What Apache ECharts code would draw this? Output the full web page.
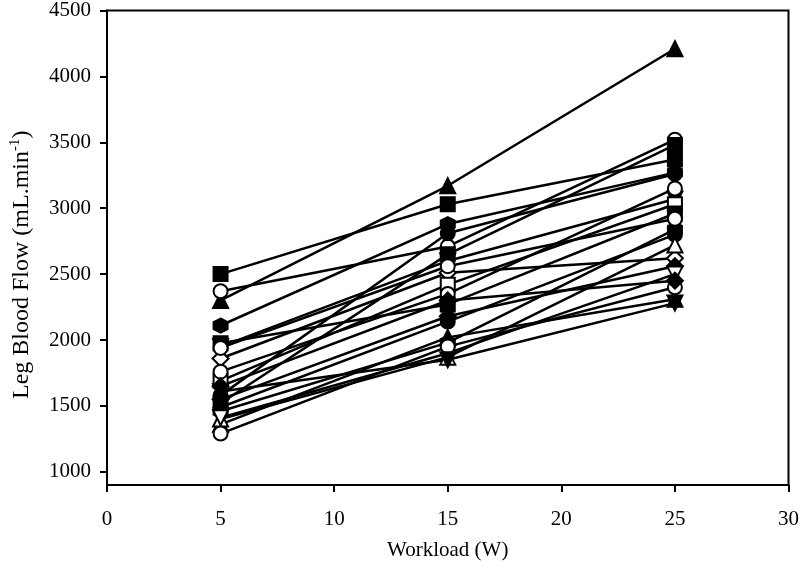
<!DOCTYPE html>
<html>
<head>
<meta charset="utf-8">
<script src="https://cdn.jsdelivr.net/npm/echarts@6/dist/echarts.min.js"></script>
<style>html,body{margin:0;padding:0;background:#fff}#c{width:802px;height:572px}</style>
</head>
<body>
<div id="c"></div>
<script>
// Workload levels (W)
const workloads = [5, 15, 25];
const yTicks = [1000, 1500, 2000, 2500, 3000, 3500, 4000, 4500];
// Leg blood flow per subject (mL.min-1) at 5, 15, 25 W
const s01 = [2300, 3170, 4210];
const s02 = [2500, 3030, 3370];
const s03 = [2370, 2710, 3520];
const s04 = [2110, 2880, 3270];
const s05 = [1520, 2650, 3480];
const s06 = [1580, 2810, 3260];
const s07 = [1950, 2600, 3070];
const s08 = [1860, 2510, 2620];
const s09 = [1690, 2420, 3030];
const s10 = [1760, 2350, 3150];
const s11 = [1975, 2270, 2960];
const s12 = [1550, 2180, 2560];
const s13 = [1490, 2140, 2800];
const s14 = [1360, 2020, 2310];
const s15 = [1460, 1980, 2840];
const s16 = [1400, 1870, 2720];
const s17 = [1410, 1900, 2500];
const s18 = [1290, 1950, 2400];
const s19 = [1610, 1850, 2280];
const s20 = [1940, 2560, 2920];
const s21 = [1650, 2300, 2450];

const HEX = 'path://M5,0 L9.33,2.5 L9.33,7.5 L5,10 L0.67,7.5 L0.67,2.5 Z';
const INV = 'path://M0,0 L10,0 L5,8.66 Z';
const subjects = [
  [s01, 'triangle', true], [s02, 'rect', true], [s03, 'circle', false],
  [s04, HEX, true], [s05, 'rect', true], [s06, 'circle', true],
  [s07, INV, true], [s08, 'diamond', false], [s09, 'rect', false],
  [s10, 'circle', false], [s11, 'rect', true], [s12, 'diamond', true],
  [s13, 'circle', true], [s14, 'triangle', true], [s15, HEX, true],
  [s16, 'triangle', false], [s17, INV, false], [s18, 'circle', false],
  [s19, INV, true], [s20, 'circle', false], [s21, 'diamond', true]
];

const series = [];
subjects.forEach(([vals, sym, filled], i) => {
  const data = workloads.map((w, k) => [w, vals[k]]);
  series.push({
    type: 'line', data, showSymbol: false, z: 2, silent: true,
    lineStyle: { color: '#000', width: 2.5 }
  });
  series.push({
    type: 'scatter', data, z: 3, symbol: sym,
    symbolSize: sym === 'triangle' || sym === INV ? 15 : (sym === 'diamond' ? 16 : 14),
    itemStyle: { color: filled ? '#000' : '#fff', borderColor: '#000', borderWidth: 2, opacity: 1 }
  });
});

const font = 'Liberation Serif';
const chart = echarts.init(document.getElementById('c'), null, { renderer: 'canvas' });
chart.setOption({
  animation: false,
  backgroundColor: '#fff',
  grid: { left: 106, right: 10, top: 8, bottom: 87, show: true, borderColor: '#000', borderWidth: 2 },
  xAxis: {
    type: 'value', min: 0, max: 30, interval: 5,
    name: 'Workload (W)', nameLocation: 'middle', nameGap: 55,
    nameTextStyle: { fontFamily: font, fontSize: 21, color: '#000' },
    axisLine: { show: true, lineStyle: { color: '#000', width: 2 } },
    axisTick: { show: true, inside: false, length: 7, lineStyle: { color: '#000', width: 2 } },
    axisLabel: { fontFamily: font, fontSize: 21, color: '#000', margin: 24 },
    splitLine: { show: false }
  },
  yAxis: {
    type: 'value', min: 900, max: 4500,
    name: 'Leg Blood Flow (mL.min{sup|-1})', nameLocation: 'middle', nameGap: 72, nameRotate: 90,
    nameTextStyle: { fontFamily: font, fontSize: 24, color: '#000', padding: [0, 34, 0, 0],
      rich: { sup: { fontFamily: font, fontSize: 15, color: '#000', padding: [0, 0, 12, 0] } } },
    axisLine: { show: true, lineStyle: { color: '#000', width: 2 } },
    axisTick: { show: true, inside: false, length: 7, lineStyle: { color: '#000', width: 2 }, customValues: yTicks },
    axisLabel: { fontFamily: font, fontSize: 21, color: '#000', margin: 16, customValues: yTicks,
      formatter: v => String(v) },
    splitLine: { show: false }
  },
  series
});
</script>
</body>
</html>
